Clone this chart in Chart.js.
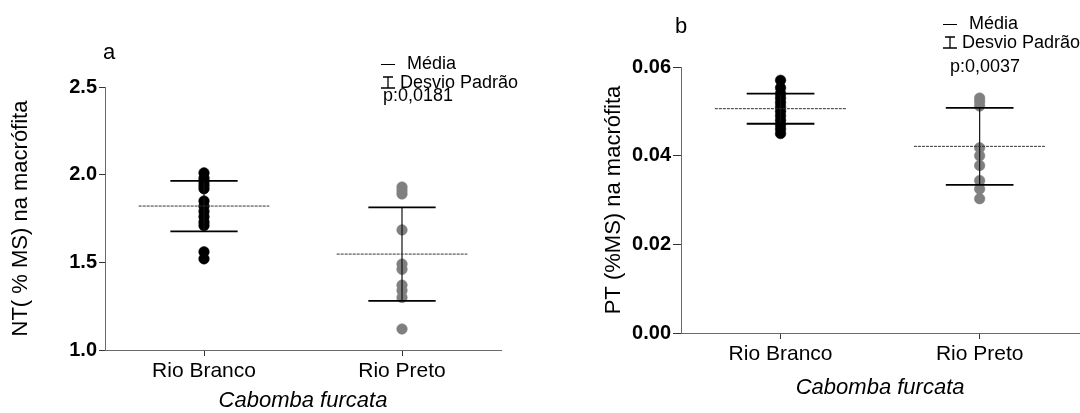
<!DOCTYPE html>
<html>
<head>
<meta charset="utf-8">
<script src="https://cdn.jsdelivr.net/npm/chart.js@4.4.1/dist/chart.umd.min.js"></script>
<style>
  html, body { margin: 0; padding: 0; background: #fff; overflow: hidden; width: 1080px; height: 413px; }
  .panel { position: absolute; top: 0; height: 413px; }
  #boxA { left: 0; width: 540px; }
  #boxB { left: 540px; width: 545px; }
</style>
</head>
<body>
<div class="panel" id="boxA"><canvas id="chartA" width="540" height="413"></canvas></div>
<div class="panel" id="boxB"><canvas id="chartB" width="545" height="413"></canvas></div>
<script>
// categories
const groups = ['Rio Branco', 'Rio Preto'];

// panel a: NT (% MS)
const ntRioBranco = [2.01, 1.98, 1.96, 1.94, 1.92, 1.85, 1.82, 1.79, 1.76, 1.73, 1.71, 1.56, 1.52];
const ntRioPreto = [1.93, 1.91, 1.89, 1.685, 1.49, 1.46, 1.37, 1.34, 1.30, 1.12];
const ntMean = [1.821, 1.547];
const ntSD = [0.144, 0.267];
const ntTicks = [1.0, 1.5, 2.0, 2.5];

// panel b: PT (%MS)
const ptRioBranco = [0.0570, 0.0553, 0.0540, 0.0530, 0.0520, 0.0510, 0.0500, 0.0490, 0.0480, 0.0470, 0.0460, 0.0450];
const ptRioPreto = [0.0530, 0.0522, 0.0512, 0.0418, 0.0400, 0.0378, 0.0344, 0.0325, 0.0303];
const ptMean = [0.0506, 0.0421];
const ptSD = [0.0034, 0.0087];
const ptTicks = [0.00, 0.02, 0.04, 0.06];

const pointColors = ['#000000', '#808080'];
const MEAN_HALF = 0.33;
const CAP_HALF = 0.17;

Chart.defaults.font.family = '"Liberation Sans", Arial, Helvetica, sans-serif';
Chart.defaults.color = '#000';

function segment(data, color, width, dash) {
    return {
        type: 'scatter',
        data: data,
        showLine: true,
        borderColor: color,
        borderWidth: width,
        borderDash: dash || [],
        pointRadius: 0,
        pointHoverRadius: 0,
    };
}

function buildDatasets(series, means, sds) {
    const sets = [];
    means.forEach((m, i) => {
        const cx = i + 0.5;
        sets.push(segment([{x: cx - MEAN_HALF, y: m}, {x: cx + MEAN_HALF, y: m}], '#333', 1, [3, 1]));
        sets.push(segment([{x: cx - CAP_HALF, y: m + sds[i]}, {x: cx + CAP_HALF, y: m + sds[i]}], '#000', 1.8));
        sets.push(segment([{x: cx - CAP_HALF, y: m - sds[i]}, {x: cx + CAP_HALF, y: m - sds[i]}], '#000', 1.8));
        sets.push(segment([{x: cx, y: m - sds[i]}, {x: cx, y: m + sds[i]}], '#111', 1.2));
    });
    series.forEach((vals, i) => {
        sets.push({
            type: 'scatter',
            data: vals.map(v => ({x: i + 0.5, y: v})),
            backgroundColor: pointColors[i],
            borderColor: pointColors[i],
            borderWidth: 0.5,
            pointRadius: 5.3,
            pointHoverRadius: 5.3,
        });
    });
    return sets;
}

const notesPlugin = {
    id: 'notes',
    afterDraw(chart, args, o) {
        const ctx = chart.ctx;
        ctx.save();
        ctx.fillStyle = '#000';
        ctx.strokeStyle = '#000';
        ctx.textBaseline = 'alphabetic';
        ctx.textAlign = 'left';
        ctx.font = '22px "Liberation Sans", Arial, sans-serif';
        ctx.fillText(o.letter, o.letterX, o.letterY);

        ctx.font = '18px "Liberation Sans", Arial, sans-serif';
        // mean symbol
        ctx.lineWidth = 1;
        ctx.beginPath();
        ctx.moveTo(o.symX, o.meanY + 0.5);
        ctx.lineTo(o.symX + 14, o.meanY + 0.5);
        ctx.stroke();
        ctx.fillText('Média', o.symX + 26, o.meanY + 5);
        // sd symbol
        const cx = o.symX + 7;
        ctx.lineWidth = 1.3;
        ctx.beginPath();
        ctx.moveTo(o.symX + 2, o.sdY);
        ctx.lineTo(o.symX + 12, o.sdY);
        ctx.moveTo(cx, o.sdY);
        ctx.lineTo(cx, o.sdY + 11);
        ctx.moveTo(o.symX, o.sdY + 11);
        ctx.lineTo(o.symX + 14, o.sdY + 11);
        ctx.stroke();
        ctx.fillText('Desvio Padrão', o.symX + 19, o.sdY + 11);
        ctx.fillText(o.pText, o.pX, o.pY);
        ctx.restore();
    }
};

function generateChart(id, series, means, sds, ticks, decimals, yTitle, box) {
    const config = {
        type: 'scatter',
        data: {datasets: buildDatasets(series, means, sds)},
        options: {
            responsive: false,
            animation: false,
            events: [],
            layout: {
                padding: {top: box.top, right: box.right, bottom: 0, left: 0}
            },
            plugins: {
                legend: {display: false},
                tooltip: {enabled: false},
                notes: box.notes,
            },
            scales: {
                x: {
                    type: 'linear',
                    min: 0,
                    max: groups.length,
                    afterBuildTicks: s => { s.ticks = groups.map((g, i) => ({value: i + 0.5})); },
                    afterFit: s => { s.height = box.xHeight; },
                    grid: {display: true, drawOnChartArea: false, drawTicks: true, tickLength: 6, color: '#333'},
                    border: {display: true, color: '#6a6a6a', width: 1},
                    ticks: {
                        autoSkip: false,
                        maxRotation: 0,
                        padding: 3,
                        color: '#000',
                        font: {size: 21},
                        callback: (v, i) => groups[i],
                    },
                    title: {
                        display: true,
                        text: 'Cabomba furcata',
                        color: '#000',
                        font: {size: 22, style: 'italic', lineHeight: 1},
                        padding: {top: 0, bottom: box.xTitlePad},
                    }
                },
                y: {
                    min: ticks[0],
                    max: ticks[ticks.length - 1],
                    afterBuildTicks: s => { s.ticks = ticks.map(v => ({value: v})); },
                    afterFit: s => { s.width = box.yWidth; },
                    grid: {display: true, drawOnChartArea: false, drawTicks: true, tickLength: box.yTick, color: '#333'},
                    border: {display: true, color: '#6a6a6a', width: 1},
                    ticks: {
                        padding: 2,
                        color: '#000',
                        font: {size: 20, weight: 'bold'},
                        callback: v => Number(v).toFixed(decimals),
                    },
                    title: {
                        display: true,
                        text: yTitle,
                        color: '#000',
                        font: {size: 22, lineHeight: 1},
                        padding: {top: box.yTitlePad, bottom: 0},
                    }
                }
            }
        },
        plugins: [notesPlugin]
    };
    return new Chart(document.getElementById(id), config);
}

generateChart('chartA', [ntRioBranco, ntRioPreto], ntMean, ntSD, ntTicks, 1,
    'NT( % MS) na macrófita', {
        top: 87, right: 39, xHeight: 63, yWidth: 105, yTick: 6, xTitlePad: 1, yTitlePad: 10,
        notes: {letter: 'a', letterX: 103, letterY: 59, symX: 381, meanY: 64, sdY: 77,
                pText: 'p:0,0181', pX: 383, pY: 101}
    });

generateChart('chartB', [ptRioBranco, ptRioPreto], ptMean, ptSD, ptTicks, 2,
    'PT (%MS) na macrófita', {
        top: 67, right: 0, xHeight: 80, yWidth: 141, yTick: 8, xTitlePad: 14, yTitlePad: 63,
        notes: {letter: 'b', letterX: 135, letterY: 33, symX: 403, meanY: 24, sdY: 37,
                pText: 'p:0,0037', pX: 410, pY: 72}
    });
</script>
</body>
</html>
